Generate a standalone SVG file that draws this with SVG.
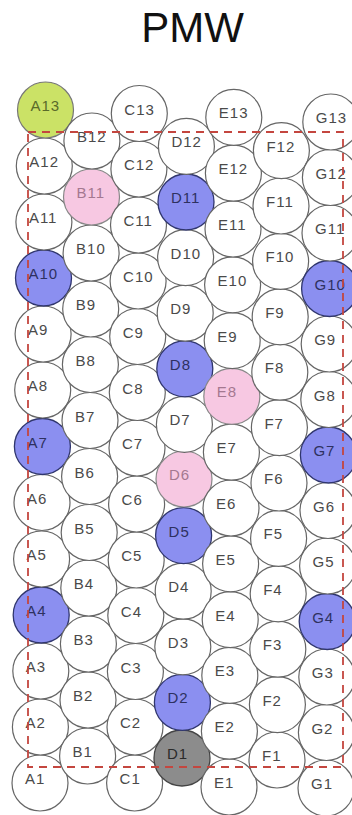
<svg xmlns="http://www.w3.org/2000/svg" width="352" height="815" viewBox="0 0 352 815">
<style>
.n circle{fill:#fff;stroke:#666;stroke-width:1.2}
.n text{font-family:"Liberation Sans",Arial,sans-serif;font-size:15px;letter-spacing:1px;fill:#4a4a4a}
.blue circle{fill:#8b8ff0;stroke:#30366e;stroke-width:1.3}
.blue text{fill:#2e3160}
.pink circle{fill:#f7c8e2;stroke:#888}
.pink text{fill:#a47890}
.green circle{fill:#cbe266;stroke:#777}
.green text{fill:#5a6a2a}
.gray circle{fill:#8c8c8c;stroke:#444;stroke-width:1.3}
.gray text{fill:#2a2a2a}
.title{font-family:"Liberation Sans",Arial,sans-serif;font-size:42px;fill:#111;text-anchor:middle}
.bound{fill:none;stroke:#c4463f;stroke-width:1.8;stroke-dasharray:8 6}
</style>
<rect width="352" height="815" fill="#fff"/>
<text class="title" x="192.5" y="42">PMW</text>
<g id="nodes">
<g id="A1" class="n"><circle cx="40" cy="783" r="28"/><text x="25" y="784">A1</text></g>
<g id="A2" class="n"><circle cx="40.4" cy="727" r="28"/><text x="25.4" y="728">A2</text></g>
<g id="A3" class="n"><circle cx="40.8" cy="671" r="28"/><text x="25.8" y="672">A3</text></g>
<g id="A4" class="n blue"><circle cx="41.2" cy="615" r="28"/><text x="26.2" y="616">A4</text></g>
<g id="A5" class="n"><circle cx="41.6" cy="559" r="28"/><text x="26.6" y="560">A5</text></g>
<g id="A6" class="n"><circle cx="42" cy="502.5" r="28"/><text x="27" y="503.5">A6</text></g>
<g id="A7" class="n blue"><circle cx="42.4" cy="446.5" r="28"/><text x="27.4" y="447.5">A7</text></g>
<g id="A8" class="n"><circle cx="42.7" cy="390" r="28"/><text x="27.7" y="391">A8</text></g>
<g id="A9" class="n"><circle cx="43.1" cy="334" r="28"/><text x="28.1" y="335">A9</text></g>
<g id="A10" class="n blue"><circle cx="43.5" cy="278" r="28"/><text x="28.5" y="279">A10</text></g>
<g id="A11" class="n"><circle cx="43.9" cy="222" r="28"/><text x="28.9" y="223">A11</text></g>
<g id="A12" class="n"><circle cx="44.3" cy="166" r="28"/><text x="29.3" y="167">A12</text></g>
<g id="A13" class="n green"><circle cx="45.5" cy="110" r="28"/><text x="30.5" y="111">A13</text></g>

<g id="B1" class="n"><circle cx="87.6" cy="756" r="28"/><text x="72.6" y="757">B1</text></g>
<g id="B2" class="n"><circle cx="88" cy="700" r="28"/><text x="73" y="701">B2</text></g>
<g id="B3" class="n"><circle cx="88.4" cy="644" r="28"/><text x="73.4" y="645">B3</text></g>
<g id="B4" class="n"><circle cx="88.8" cy="588" r="28"/><text x="73.8" y="589">B4</text></g>
<g id="B5" class="n"><circle cx="89.2" cy="532.5" r="28"/><text x="74.2" y="533.5">B5</text></g>
<g id="B6" class="n"><circle cx="89.6" cy="476.5" r="28"/><text x="74.6" y="477.5">B6</text></g>
<g id="B7" class="n"><circle cx="90" cy="420.5" r="28"/><text x="75" y="421.5">B7</text></g>
<g id="B8" class="n"><circle cx="90.4" cy="364.5" r="28"/><text x="75.4" y="365.5">B8</text></g>
<g id="B9" class="n"><circle cx="90.7" cy="309" r="28"/><text x="75.7" y="310">B9</text></g>
<g id="B10" class="n"><circle cx="91.1" cy="253" r="28"/><text x="76.1" y="254">B10</text></g>
<g id="B11" class="n pink"><circle cx="91.5" cy="197" r="28"/><text x="76.5" y="198">B11</text></g>
<g id="B12" class="n"><circle cx="91.9" cy="141" r="28"/><text x="76.9" y="142">B12</text></g>

<g id="C1" class="n"><circle cx="134.6" cy="783" r="28"/><text x="119.6" y="784">C1</text></g>
<g id="C2" class="n"><circle cx="135" cy="727" r="28"/><text x="120" y="728">C2</text></g>
<g id="C3" class="n"><circle cx="135.4" cy="671.5" r="28"/><text x="120.4" y="672.5">C3</text></g>
<g id="C4" class="n"><circle cx="135.8" cy="615.5" r="28"/><text x="120.8" y="616.5">C4</text></g>
<g id="C5" class="n"><circle cx="136.2" cy="560" r="28"/><text x="121.2" y="561">C5</text></g>
<g id="C6" class="n"><circle cx="136.6" cy="504" r="28"/><text x="121.6" y="505">C6</text></g>
<g id="C7" class="n"><circle cx="137" cy="448" r="28"/><text x="122" y="449">C7</text></g>
<g id="C8" class="n"><circle cx="137.3" cy="392.5" r="28"/><text x="122.3" y="393.5">C8</text></g>
<g id="C9" class="n"><circle cx="137.7" cy="336.5" r="28"/><text x="122.7" y="337.5">C9</text></g>
<g id="C10" class="n"><circle cx="138.1" cy="281" r="28"/><text x="123.1" y="282">C10</text></g>
<g id="C11" class="n"><circle cx="138.5" cy="225" r="28"/><text x="123.5" y="226">C11</text></g>
<g id="C12" class="n"><circle cx="138.9" cy="169" r="28"/><text x="123.9" y="170">C12</text></g>
<g id="C13" class="n"><circle cx="139.3" cy="113.5" r="28"/><text x="124.3" y="114.5">C13</text></g>

<g id="D1" class="n gray"><circle cx="182" cy="758" r="28"/><text x="167" y="759">D1</text></g>
<g id="D2" class="n blue"><circle cx="182.4" cy="702.4" r="28"/><text x="167.4" y="703.4">D2</text></g>
<g id="D3" class="n"><circle cx="182.8" cy="646.8" r="28"/><text x="167.8" y="647.8">D3</text></g>
<g id="D4" class="n"><circle cx="183.2" cy="591.2" r="28"/><text x="168.2" y="592.2">D4</text></g>
<g id="D5" class="n blue"><circle cx="183.6" cy="535.6" r="28"/><text x="168.6" y="536.6">D5</text></g>
<g id="D6" class="n pink"><circle cx="184" cy="479" r="28"/><text x="169" y="480">D6</text></g>
<g id="D7" class="n"><circle cx="184.4" cy="424.4" r="28"/><text x="169.4" y="425.4">D7</text></g>
<g id="D8" class="n blue"><circle cx="184.8" cy="368.8" r="28"/><text x="169.8" y="369.8">D8</text></g>
<g id="D9" class="n"><circle cx="185.2" cy="313.2" r="28"/><text x="170.2" y="314.2">D9</text></g>
<g id="D10" class="n"><circle cx="185.6" cy="257.6" r="28"/><text x="170.6" y="258.6">D10</text></g>
<g id="D11" class="n blue"><circle cx="186" cy="202" r="28"/><text x="171" y="203">D11</text></g>
<g id="D12" class="n"><circle cx="186.4" cy="146.4" r="28"/><text x="171.4" y="147.4">D12</text></g>

<g id="E1" class="n"><circle cx="229" cy="787" r="28"/><text x="214" y="788">E1</text></g>
<g id="E2" class="n"><circle cx="229.4" cy="731.2" r="28"/><text x="214.4" y="732.2">E2</text></g>
<g id="E3" class="n"><circle cx="229.8" cy="675.4" r="28"/><text x="214.8" y="676.4">E3</text></g>
<g id="E4" class="n"><circle cx="230.2" cy="619.6" r="28"/><text x="215.2" y="620.6">E4</text></g>
<g id="E5" class="n"><circle cx="230.6" cy="563.8" r="28"/><text x="215.6" y="564.8">E5</text></g>
<g id="E6" class="n"><circle cx="231" cy="508" r="28"/><text x="216" y="509">E6</text></g>
<g id="E7" class="n"><circle cx="231.4" cy="452.2" r="28"/><text x="216.4" y="453.2">E7</text></g>
<g id="E8" class="n pink"><circle cx="231.8" cy="396.4" r="28"/><text x="216.8" y="397.4">E8</text></g>
<g id="E9" class="n"><circle cx="232.2" cy="340.6" r="28"/><text x="217.2" y="341.6">E9</text></g>
<g id="E10" class="n"><circle cx="232.6" cy="284.8" r="28"/><text x="217.6" y="285.8">E10</text></g>
<g id="E11" class="n"><circle cx="233" cy="229" r="28"/><text x="218" y="230">E11</text></g>
<g id="E12" class="n"><circle cx="233.4" cy="173.2" r="28"/><text x="218.4" y="174.2">E12</text></g>
<g id="E13" class="n"><circle cx="233.8" cy="117.4" r="28"/><text x="218.8" y="118.4">E13</text></g>

<g id="F1" class="n"><circle cx="277" cy="760" r="28"/><text x="262" y="761">F1</text></g>
<g id="F2" class="n"><circle cx="277.4" cy="704.6" r="28"/><text x="262.4" y="705.6">F2</text></g>
<g id="F3" class="n"><circle cx="277.8" cy="649.2" r="28"/><text x="262.8" y="650.2">F3</text></g>
<g id="F4" class="n"><circle cx="278.2" cy="593.8" r="28"/><text x="263.2" y="594.8">F4</text></g>
<g id="F5" class="n"><circle cx="278.6" cy="538.4" r="28"/><text x="263.6" y="539.4">F5</text></g>
<g id="F6" class="n"><circle cx="279" cy="483" r="28"/><text x="264" y="484">F6</text></g>
<g id="F7" class="n"><circle cx="279.4" cy="427.6" r="28"/><text x="264.4" y="428.6">F7</text></g>
<g id="F8" class="n"><circle cx="279.8" cy="372.2" r="28"/><text x="264.8" y="373.2">F8</text></g>
<g id="F9" class="n"><circle cx="280.2" cy="316.8" r="28"/><text x="265.2" y="317.8">F9</text></g>
<g id="F10" class="n"><circle cx="280.6" cy="261.4" r="28"/><text x="265.6" y="262.4">F10</text></g>
<g id="F11" class="n"><circle cx="281" cy="206" r="28"/><text x="266" y="207">F11</text></g>
<g id="F12" class="n"><circle cx="281.4" cy="150.6" r="28"/><text x="266.4" y="151.6">F12</text></g>

<g id="G1" class="n"><circle cx="326" cy="788" r="28"/><text x="311" y="789">G1</text></g>
<g id="G2" class="n"><circle cx="326.4" cy="732.5" r="28"/><text x="311.4" y="733.5">G2</text></g>
<g id="G3" class="n"><circle cx="326.8" cy="677" r="28"/><text x="311.8" y="678">G3</text></g>
<g id="G4" class="n blue"><circle cx="327.2" cy="621.5" r="28"/><text x="312.2" y="622.5">G4</text></g>
<g id="G5" class="n"><circle cx="327.6" cy="566" r="28"/><text x="312.6" y="567">G5</text></g>
<g id="G6" class="n"><circle cx="328" cy="510.5" r="28"/><text x="313" y="511.5">G6</text></g>
<g id="G7" class="n blue"><circle cx="328.4" cy="455" r="28"/><text x="313.4" y="456">G7</text></g>
<g id="G8" class="n"><circle cx="328.8" cy="399.5" r="28"/><text x="313.8" y="400.5">G8</text></g>
<g id="G9" class="n"><circle cx="329.2" cy="344" r="28"/><text x="314.2" y="345">G9</text></g>
<g id="G10" class="n blue"><circle cx="329.6" cy="288.5" r="28"/><text x="314.6" y="289.5">G10</text></g>
<g id="G11" class="n"><circle cx="330" cy="233" r="28"/><text x="315" y="234">G11</text></g>
<g id="G12" class="n"><circle cx="330.4" cy="177.5" r="28"/><text x="315.4" y="178.5">G12</text></g>
<g id="G13" class="n"><circle cx="330.8" cy="122" r="28"/><text x="315.8" y="123">G13</text></g>
</g>
<g id="connectors"></g>
<g id="boundary"><rect class="bound" x="28" y="132" width="315" height="635"/></g>
</svg>
